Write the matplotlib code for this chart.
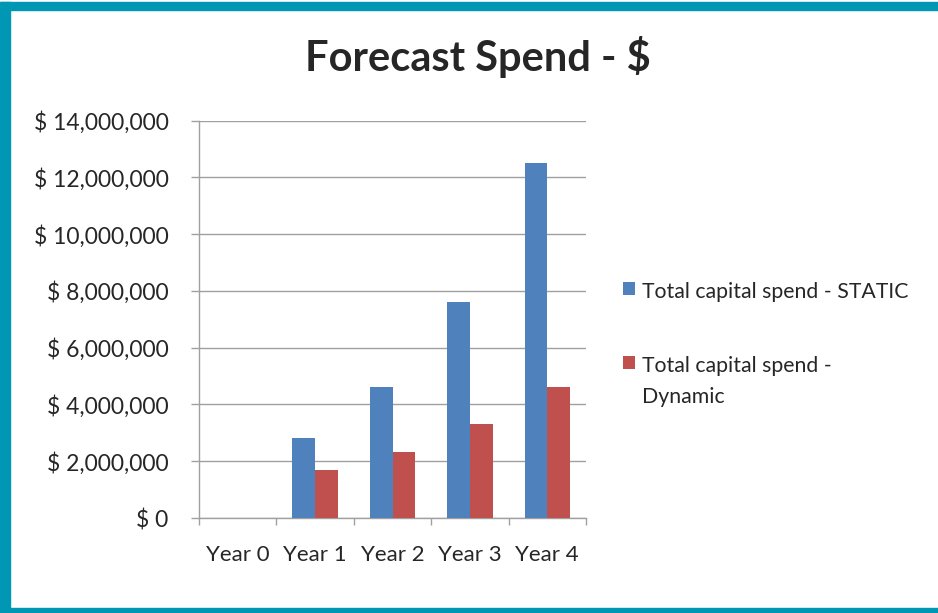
import numpy as np
import matplotlib
matplotlib.use("Agg")
import matplotlib.pyplot as plt
from matplotlib.patches import Rectangle
from matplotlib.ticker import FuncFormatter, FixedLocator

# ── data ──────────────────────────────────────
years = ["Year 0", "Year 1", "Year 2", "Year 3", "Year 4"]
spend_static = [0, 2820000, 4620000, 7600000, 12510000]
spend_dynamic = [0, 1690000, 2330000, 3310000, 4620000]
series_names = ["Total capital spend - STATIC", "Total capital spend -\nDynamic"]

BLUE = "#4f81bd"
RED = "#c0504d"
TEAL = "#0097b4"
GRID = "#a0a0a0"
INK = "#262626"

plt.rcParams["font.family"] = ["Lato", "DejaVu Sans"]

fig = plt.figure(figsize=(9.38, 6.13), dpi=100)
ax = fig.add_axes([199 / 938, 1 - 518 / 613, 387 / 938, (518 - 120.7) / 613])

x = np.arange(len(years))
w = 0.293
b1 = ax.bar(x - w / 2, spend_static, w, color=BLUE, label=series_names[0], zorder=3)
b2 = ax.bar(x + w / 2, spend_dynamic, w, color=RED, label=series_names[1], zorder=3)

ax.set_xlim(-0.5, len(years) - 0.5)
ax.set_ylim(0, 14000000)
ax.set_yticks(np.arange(0, 14000001, 2000000))
ax.yaxis.set_major_formatter(FuncFormatter(lambda v, p: f"$ {v:,.0f}"))
ax.grid(axis="y", color=GRID, lw=1, zorder=0)

# category labels centred, tick marks on the boundaries
ax.set_xticks(x)
ax.set_xticklabels(years)
ax.xaxis.set_minor_locator(FixedLocator(np.arange(-0.5, len(years), 1.0)))
ax.tick_params(axis="x", which="major", length=0, pad=19.5, labelsize=16, labelcolor=INK)
ax.tick_params(axis="x", which="minor", length=5, color=GRID, width=1)
ax.tick_params(axis="y", length=6, color=GRID, width=1, pad=16, labelsize=16.5, labelcolor=INK)

for s in ["top", "right"]:
    ax.spines[s].set_visible(False)
for s in ["left", "bottom"]:
    ax.spines[s].set_color(GRID)
    ax.spines[s].set_linewidth(1)

fig.text(0.509, 1 - 71 / 613, "Forecast Spend - $", ha="center", va="baseline",
         fontsize=30, fontweight="bold", color=INK)

leg = fig.legend(handles=[b1, b2], labels=series_names, loc="upper left",
                 bbox_to_anchor=(623 / 938, 1 - 282 / 613), frameon=False,
                 fontsize=15.3, handlelength=0.57, handleheight=0.57,
                 handletextpad=0.33, labelspacing=2.55, borderpad=0, borderaxespad=0)
for t in leg.get_texts():
    t.set_color(INK)
    t.set_linespacing(1.7)
# keep each square level with the first line of its label
for col in leg._legend_handle_box.get_children():
    for item in col.get_children():
        item.align = "top"

# teal frame round the chart
fig.patches.append(Rectangle((0, 0), 10 / 938, 1 - 2 / 613, transform=fig.transFigure,
                             color=TEAL, zorder=10))
fig.patches.append(Rectangle((0, 1 - 10 / 613), 1, 8 / 613, transform=fig.transFigure,
                             color=TEAL, zorder=10))
fig.patches.append(Rectangle((0, 0), 1, 5 / 613, transform=fig.transFigure,
                             color=TEAL, zorder=10))

fig.savefig("out.png", dpi=100)
